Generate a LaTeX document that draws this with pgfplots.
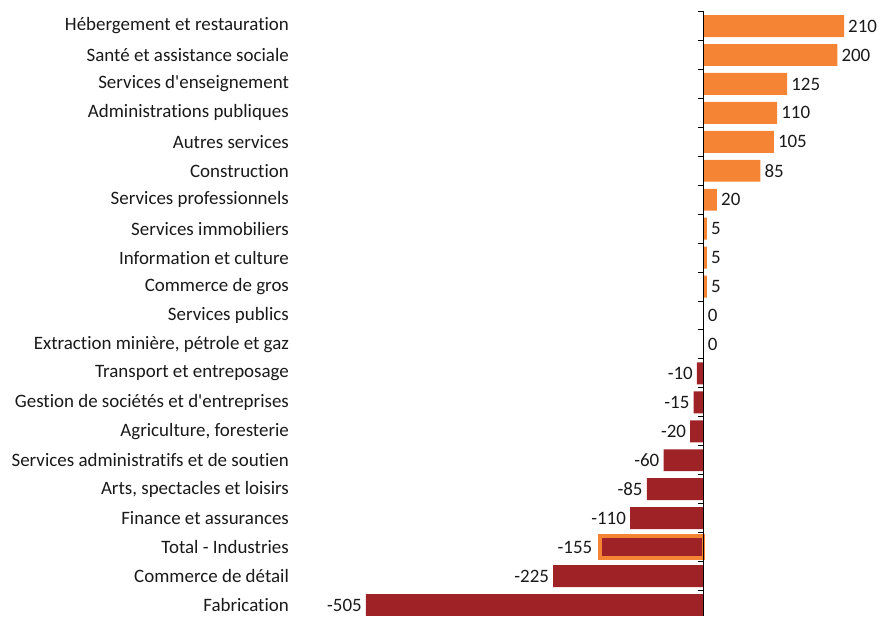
\documentclass[border=0pt]{standalone}
\usepackage{fontspec}
\setmainfont{Carlito}[Ligatures={TeX,NoCommon}]
\usepackage{pgfplots}
\pgfplotsset{compat=1.18}
\definecolor{orng}{RGB}{245,132,52}
\definecolor{dred}{RGB}{158,34,38}
\definecolor{txt}{RGB}{25,25,25}
\newcommand{\fs}{\fontsize{19bp}{22bp}\selectfont}
\begin{document}
\begin{tikzpicture}
\begin{axis}[
  width=591bp, height=618bp, scale only axis,
  xbar, bar width=22bp, bar shift=0pt,
  xmin=-620, xmax=261, ymin=-0.38, ymax=20.9,
  axis line style={draw=none},
  xtick=\empty,
  ytick={0,...,20},
  yticklabels={Fabrication, Commerce de détail, Total - Industries, Finance et assurances, {Arts, spectacles et loisirs}, Services administratifs et de soutien, {Agriculture, foresterie}, Gestion de sociétés et d\textquotesingle entreprises, Transport et entreposage, {Extraction minière, pétrole et gaz}, Services publics, Commerce de gros, Information et culture, Services immobiliers, Services professionnels, Construction, Autres services, Administrations publiques, Services d\textquotesingle enseignement, Santé et assistance sociale, Hébergement et restauration},
  major tick length=0pt,
  yticklabel style={font=\fs, text=txt, inner sep=0pt, anchor=east},
  nodes near coords,
  nodes near coords style={font=\fs, text=txt, inner sep=4bp},
  /pgf/number format/assume math mode=true,
  clip=false,
]
\addplot[fill=dred, draw=none, nodes near coords style={anchor=east}] coordinates {
  (-505,0) (-225,1) (-110,3) (-85,4) (-60,5) (-20,6) (-15,7) (-10,8)};
\addplot[fill=orng, draw=none, nodes near coords style={anchor=west}] coordinates {
  (0,9) (0,10) (5,11) (5,12) (5,13) (20,14) (85,15) (105,16) (110,17) (125,18) (200,19) (210,20)};
\addplot[fill=dred, draw=orng, line width=3.5bp, nodes near coords style={anchor=east, xshift=-2bp}] coordinates {(-155,2)};
\draw[black, line width=1bp] (axis cs:0,-0.38) -- (axis cs:0,20.5);
\pgfplotsinvokeforeach{0.5,1.5,...,20.5}{
  \draw[black, line width=1bp] (axis cs:0,#1) -- ([xshift=-6bp]axis cs:0,#1);
}
\end{axis}
\path ([xshift=-290bp]current axis.south west) rectangle (current axis.north east);
\end{tikzpicture}
\end{document}
